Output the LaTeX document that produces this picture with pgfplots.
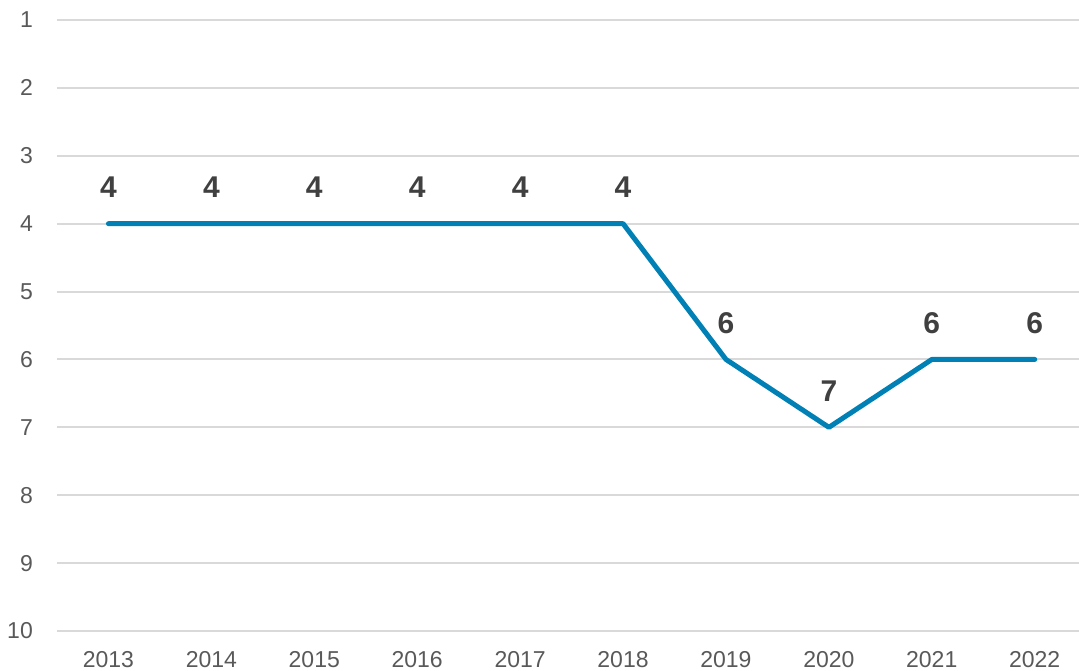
\documentclass[border=0pt]{standalone}
\usepackage{pgfplots}
\pgfplotsset{compat=1.18}
\usepackage{fontspec}
\setmainfont{Liberation Sans}
\definecolor{linecol}{HTML}{0080B4}
\definecolor{gridcol}{HTML}{D9D9D9}
\definecolor{tickcol}{HTML}{595959}
\definecolor{labcol}{HTML}{404040}
\begin{document}
\begin{tikzpicture}
\begin{axis}[
  scale only axis,
  width=1022pt, height=611pt,
  xmin=2012.5, xmax=2022.43,
  ymin=1, ymax=10,
  y dir=reverse,
  axis line style={draw=none},
  major tick length=0pt,
  xtick={2013,...,2022},
  ytick={1,...,10},
  ymajorgrids,
  grid style={gridcol, line width=2pt},
  /pgf/number format/assume math mode=true,
  xticklabel={\pgfmathprintnumber[1000 sep={}]{\tick}},
  ticklabel style={font=\fontsize{23}{23}\selectfont, text=tickcol},
  yticklabel style={anchor=east, inner sep=0pt, xshift=-24pt},
  xticklabel style={anchor=north, inner sep=0pt, yshift=-20pt},
  clip=false,
]
\addplot[linecol, line width=5pt, line cap=round, line join=round,
  nodes near coords,
  nodes near coords style={anchor=center, yshift=36pt, font=\fontsize{30}{30}\selectfont\bfseries, text=labcol},
  point meta=explicit symbolic]
  coordinates {
  (2013,4) [4] (2014,4) [4] (2015,4) [4] (2016,4) [4] (2017,4) [4]
  (2018,4) [4] (2019,6) [6] (2020,7) [7] (2021,6) [6] (2022,6) [6]
  };
\end{axis}
\pgfresetboundingbox
\useasboundingbox ([xshift=-57pt,yshift=-40pt]current axis.south west) rectangle ([yshift=20pt]current axis.north east);
\end{tikzpicture}
\end{document}
